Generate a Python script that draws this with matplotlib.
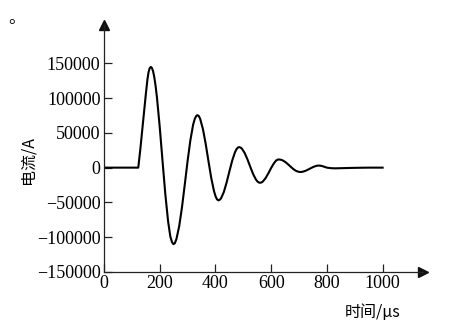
import matplotlib
matplotlib.use('Agg')
import matplotlib.pyplot as plt

plt.rcParams['font.family'] = ['Liberation Serif', 'DejaVu Serif']

# 时间 (us) / 电流 (A)
t_us = [0, 123, 130, 140, 150, 156, 160, 164, 168, 172, 176, 180, 185, 190, 200, 210,
        220, 230, 238, 244, 249, 254, 260, 270, 280, 290, 300, 310, 320, 326, 331, 335, 340,
        345, 355, 365, 375, 385, 395, 401, 406, 411, 416,
        420, 430, 440, 450, 460, 470, 476, 481, 485, 490,
        495, 505, 515, 525, 535, 545, 551, 556, 560, 565,
        570, 580, 590, 600, 610, 618, 623, 628, 634,
        640, 650, 660, 670, 680, 690, 698, 704, 710,
        715, 725, 735, 745, 755, 763, 768, 772, 778,
        785, 800, 815, 830, 860, 900, 950, 1000]
current = [0, 0, 25000, 65000, 105000, 127000, 137500, 143000, 144700, 143300, 138800,
           131200, 118000, 101100, 58600, 9900,
           -37700, -77000, -99000, -107000, -110000, -108800, -102600, -84000, -56600,
           -24100, 9400, 39300, 61900, 70300, 74200, 75400, 74300,
           70300, 55600, 34100, 9200, -15000, -34000, -41800, -45800, -47000, -46000,
           -44200, -35200, -21500, -5500, 9900, 22000, 26800, 29000, 29500, 28900,
           27300, 21000, 11800, 1200, -9000, -16900, -20000, -21400, -21800, -21300,
           -20000, -15100, -8100, -400, 6300, 10300, 11400, 11800, 11400,
           10700, 8300, 5000, 1300, -2200, -4800, -5900, -6300, -6100,
           -5700, -4300, -2300, -200, 1600, 2600, 2900, 3000, 2700,
           2000, 0, -800, -1000, -700, -300, 0, 0]

xticks = [0, 200, 400, 600, 800, 1000]
yticks = [-150000, -100000, -50000, 0, 50000, 100000, 150000]

cjk = ['Noto Sans CJK SC', 'DejaVu Sans']

fig = plt.figure(figsize=(4.63, 3.27), dpi=100)
ax = fig.add_axes([104 / 463, 55 / 327, 319 / 463, 247 / 327])

ax.plot(t_us, current, color='black', lw=1.5)

ax.set_xlim(0, 1145)
ax.set_ylim(-150000, 205000)
ax.set_xticks(xticks, [str(v) for v in xticks], fontsize=13)
ax.set_yticks(yticks, [str(v).replace('-', '\u2212') for v in yticks], fontsize=13)
ax.tick_params(axis='both', direction='in', length=5.5, width=0.9, color='#222222')
ax.tick_params(axis='x', pad=2)
ax.tick_params(axis='y', pad=2.5)

for s in ['top', 'right']:
    ax.spines[s].set_visible(False)
for s in ['left', 'bottom']:
    ax.spines[s].set_linewidth(0.9)
    ax.spines[s].set_color('#222222')

# arrow heads on the axes
ax.plot(1, 0, '>', color='#111111', ms=7, transform=ax.transAxes, clip_on=False)
ax.plot(0, 1, '^', color='#111111', ms=7, transform=ax.transAxes, clip_on=False)

fig.text(28 / 463, 1 - 160 / 327, '电流/A', family=cjk, fontsize=11.5,
         rotation=90, ha='center', va='center')
fig.text(373 / 463, 1 - 312 / 327, '时间/μs', family=cjk, fontsize=11.5,
         ha='center', va='center')
fig.text(17 / 463, 1 - 18 / 327, '。', family=cjk, fontsize=12,
         ha='center', va='center')

fig.savefig('out.png', dpi=100)
